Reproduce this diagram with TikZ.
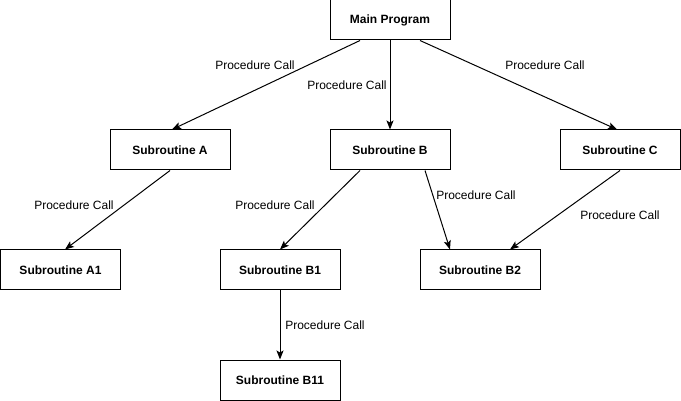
\documentclass[tikz,border=0pt]{standalone}
\usepackage{fontspec}
\setmainfont{Liberation Sans}
\usetikzlibrary{arrows.meta}
\begin{document}
\begin{tikzpicture}[x=1pt,y=-1pt,
  box/.style={draw, line width=1pt, minimum width=120pt, minimum height=40pt, inner sep=0pt, font=\fontsize{12}{14}\selectfont\bfseries, fill=white},
  lbl/.style={font=\fontsize{12}{14}\selectfont, inner sep=0pt},
  conn/.style={line width=1pt, -{Stealth[length=9pt,width=7pt,inset=2pt]}}]
\useasboundingbox (0,0) rectangle (681,401);
\node[box] (main) at (390,20) {Main Program};
\node[box] (a) at (170,150) {Subroutine A};
\node[box] (b) at (390,150) {Subroutine B};
\node[box] (c) at (620,150) {Subroutine C};
\node[box] (a1) at (60.5,270) {Subroutine A1};
\node[box] (b1) at (280,270) {Subroutine B1};
\node[box] (b2) at (480,270) {Subroutine B2};
\node[box] (b11) at (280,380) {Subroutine B11};

\draw[conn] ([xshift=-30pt]main.south) -- ([xshift=2pt]a.north);
\draw[conn] (main.south) -- (b.north);
\draw[conn] ([xshift=30pt]main.south) -- ([xshift=-3pt]c.north);
\draw[conn] (a.south) -- ([xshift=4.5pt]a1.north);
\draw[conn] ([xshift=-30pt]b.south) -- (b1.north);
\draw[conn] ([xshift=35pt]b.south) -- ([xshift=-30pt]b2.north);
\draw[conn] (c.south) -- ([xshift=30pt]b2.north);
\draw[conn] (b1.south) -- (b11.north);

\node[lbl] (l1) at (255,65) {Procedure Call};
\node[lbl] (l2) at (347,85) {Procedure Call};
\node[lbl] (l3) at (545,65) {Procedure Call};
\node[lbl] (l4) at (74,205) {Procedure Call};
\node[lbl] (l5) at (275,205) {Procedure Call};
\node[lbl] (l6) at (476,195) {Procedure Call};
\node[lbl] (l7) at (620,215) {Procedure Call};
\node[lbl] (l8) at (325,325) {Procedure Call};
\end{tikzpicture}
\end{document}
